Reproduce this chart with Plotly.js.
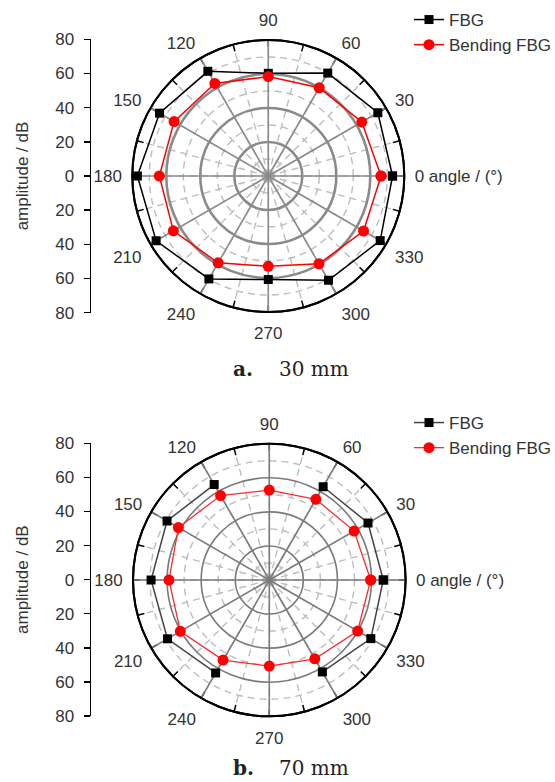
<!DOCTYPE html>
<html>
<head>
<meta charset="utf-8">
<script src="https://cdn.plot.ly/plotly-3.0.1.min.js"></script>
<style>html,body{margin:0;padding:0;background:#fff;overflow:hidden;}#chart{width:555px;height:782px;}</style>
</head>
<body>
<div id="chart"></div>
<script>
// ---- data ----
var angles = [0, 30, 60, 90, 120, 150, 180, 210, 240, 270, 300, 330];
var angleLabels = ['0 angle / (°)', '30', '60', '90', '120', '150', '180', '210', '240', '270', '300', '330'];
var minorAngles = [0, 15, 30, 45, 60, 75, 90, 105, 120, 135, 150, 165, 180, 195, 210, 225, 240, 255, 270, 285, 300, 315, 330, 345];
var majorRadii = [20, 40, 60];
var minorRadii = [10, 30, 50, 70];
var ampVals = [80, 60, 40, 20, 0, -20, -40, -60, -80];
var ampLabels = ['80', '60', '40', '20', '0', '20', '40', '60', '80'];

// (a) 30 mm
var fbg30 = [73.1, 74.4, 69.9, 60.4, 71.1, 73.9, 77.0, 76.2, 69.9, 60.9, 70.8, 76.0];
var bend30 = [66.3, 63.5, 59.9, 58.5, 62.9, 64.0, 64.1, 64.5, 59.0, 53.1, 59.6, 64.7];
// (b) 70 mm  (no FBG value at 90 and 270)
var fbg70 = [66.9, 66.9, 63.2, null, 64.7, 69.3, 69.4, 69.0, 63.0, null, 62.3, 68.8];
var bend70 = [59.5, 57.5, 54.7, 52.8, 57.2, 61.6, 58.9, 60.3, 54.3, 50.5, 53.4, 59.9];

var seriesNames = ['FBG', 'Bending FBG'];
var captions = ['30 mm', '70 mm'];
var captionLetters = ['a.', 'b.'];

// ---- helpers ----
function closeLoop(arr) { return arr.concat([arr[0]]); }
var thetaClosed = closeLoop(angles);

var W = 555, H = 782;
function px(x) { return x / W; }
function py(y) { return 1 - y / H; }

var FONT = 'Liberation Sans, Arial, sans-serif';
var TXT = '#333';
var DASHCOL = '#bdbdbd';

function lowerPolar(dom) {
  return {
    domain: dom,
    bgcolor: '#fff',
    angularaxis: {
      tickmode: 'array', tickvals: minorAngles, showticklabels: false,
      ticks: 'inside', ticklen: 6, tickwidth: 1.5, tickcolor: '#000',
      showgrid: true, gridcolor: DASHCOL, gridwidth: 1.4, griddash: '7px,5px',
      showline: true, linecolor: '#000', linewidth: 2
    },
    radialaxis: {
      range: [0, 80], tickmode: 'array', tickvals: minorRadii, showticklabels: false,
      ticks: '', showline: false, showgrid: true, gridcolor: DASHCOL, gridwidth: 1.4, griddash: '7px,5px'
    }
  };
}
function upperPolar(dom, radW, angW, col) {
  return {
    domain: dom,
    bgcolor: 'rgba(0,0,0,0)',
    angularaxis: {
      tickmode: 'array', tickvals: angles, ticktext: angleLabels,
      ticks: 'outside', ticklen: 6, tickcolor: 'rgba(0,0,0,0)',
      showticklabels: true, tickfont: {family: FONT, size: 17, color: TXT},
      showgrid: true, gridcolor: col, gridwidth: angW,
      showline: true, linecolor: '#000', linewidth: 2, layer: 'below traces'
    },
    radialaxis: {
      range: [0, 80], tickmode: 'array', tickvals: majorRadii, showticklabels: false,
      ticks: '', showline: false, showgrid: true, gridcolor: col, gridwidth: radW
    }
  };
}

var domTop = {x: [px(132.3), px(404.3)], y: [py(312), py(40)]};
var domBot = {x: [px(133), px(405.6)], y: [py(716.3), py(443.7)]};

var traces = [
  // empty traces so the under-layer (minor grid) polar subplots get drawn
  {type: 'scatterpolar', subplot: 'polar', r: [], theta: [], showlegend: false, hoverinfo: 'skip'},
  {type: 'scatterpolar', subplot: 'polar3', r: [], theta: [], showlegend: false, hoverinfo: 'skip'},
  {type: 'scatterpolar', subplot: 'polar2', r: closeLoop(fbg30), theta: thetaClosed, name: seriesNames[0],
   mode: 'lines+markers', line: {color: '#000', width: 1.5}, marker: {symbol: 'square', size: 9, color: '#000'},
   legend: 'legend', legendgroup: 'a1'},
  {type: 'scatterpolar', subplot: 'polar2', r: closeLoop(bend30), theta: thetaClosed, name: seriesNames[1],
   mode: 'lines+markers', line: {color: '#ff0000', width: 1.5}, marker: {symbol: 'circle', size: 11, color: '#ff0000'},
   legend: 'legend', legendgroup: 'a2'},
  {type: 'scatterpolar', subplot: 'polar4', r: closeLoop(fbg70), theta: thetaClosed, name: seriesNames[0],
   mode: 'lines+markers', connectgaps: false, line: {color: '#444', width: 1.5}, marker: {symbol: 'square', size: 9, color: '#000'},
   legend: 'legend2', legendgroup: 'b1'},
  {type: 'scatterpolar', subplot: 'polar4', r: closeLoop(bend70), theta: thetaClosed, name: seriesNames[1],
   mode: 'lines+markers', line: {color: '#ff2a2a', width: 1.3}, marker: {symbol: 'circle', size: 11, color: '#ff0000'},
   legend: 'legend2', legendgroup: 'b2'},
  // invisible traces to anchor the amplitude side axes
  {type: 'scatter', x: [null], y: [null], xaxis: 'x', yaxis: 'y', showlegend: false, hoverinfo: 'skip'},
  {type: 'scatter', x: [null], y: [null], xaxis: 'x2', yaxis: 'y2', showlegend: false, hoverinfo: 'skip'}
];

function sideY(dom, anchor) {
  return {
    domain: dom, range: [-80, 80], anchor: anchor,
    tickmode: 'array', tickvals: ampVals, ticktext: ampLabels,
    ticks: 'outside', ticklen: 6, tickwidth: 1.5, tickcolor: '#000', ticklabelstandoff: 6,
    showline: true, linecolor: '#000', linewidth: 1.5, showgrid: false, zeroline: false,
    tickfont: {family: FONT, size: 17, color: TXT},
    title: {text: 'amplitude / dB', font: {family: FONT, size: 17, color: TXT}, standoff: 22},
    fixedrange: true
  };
}
var y1 = sideY([py(312.7), py(39.3)], 'x');
var y2 = sideY([py(716), py(443.3)], 'x2');

var legendBase = {
  xanchor: 'left', yanchor: 'top', bgcolor: 'rgba(0,0,0,0)', borderwidth: 0,
  font: {family: FONT, size: 17, color: TXT}, tracegroupgap: 0
};
var leg1 = Object.assign({}, legendBase, {x: px(409), y: py(2)});
var leg2 = Object.assign({}, legendBase, {x: px(409), y: py(405)});

var captionFont = {family: 'DejaVu Serif, serif', size: 20, color: '#222'};
var annotations = [];
[369, 768].forEach(function (yy, i) {
  annotations.push({xref: 'paper', yref: 'paper', x: px(243), y: py(yy), text: '<b>' + captionLetters[i] + '</b>',
    showarrow: false, font: captionFont, xanchor: 'center', yanchor: 'middle'});
  annotations.push({xref: 'paper', yref: 'paper', x: px(277), y: py(yy), text: captions[i],
    showarrow: false, font: captionFont, xanchor: 'left', yanchor: 'middle'});
});

var layout = {
  width: W, height: H, margin: {l: 0, r: 0, t: 0, b: 0, autoexpand: false},
  paper_bgcolor: '#fff', plot_bgcolor: 'rgba(0,0,0,0)',
  font: {family: FONT, size: 17, color: TXT},
  polar: lowerPolar(domTop),
  polar2: upperPolar(domTop, 2.6, 1.6, '#8a8a8a'),
  polar3: lowerPolar(domBot),
  polar4: upperPolar(domBot, 1.6, 1.6, '#7a7a7a'),
  xaxis: {domain: [px(91), px(93)], visible: false, fixedrange: true, anchor: 'y'},
  xaxis2: {domain: [px(91), px(93)], visible: false, fixedrange: true, anchor: 'y2'},
  yaxis: y1,
  yaxis2: y2,
  legend: leg1,
  legend2: leg2,
  annotations: annotations,
  showlegend: true
};

Plotly.newPlot('chart', traces, layout, {staticPlot: true, displayModeBar: false});
</script>
</body>
</html>
